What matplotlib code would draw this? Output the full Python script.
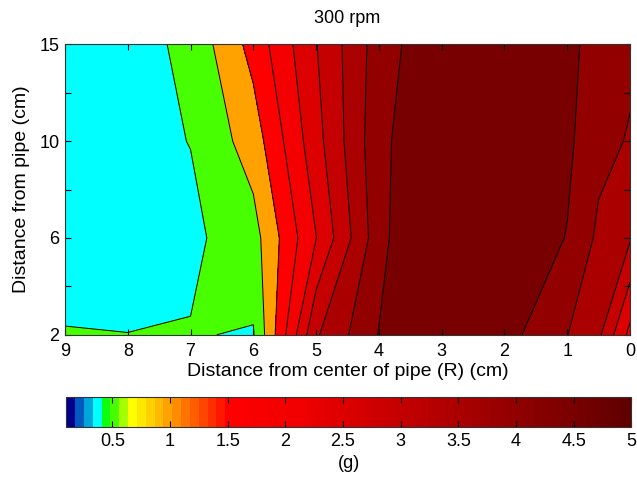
import numpy as np
import matplotlib
matplotlib.use('Agg')
from matplotlib import pyplot as plt
from matplotlib.colors import ListedColormap, Normalize
from matplotlib.cm import ScalarMappable

# distance from centre of pipe (cm), one column per value
dist_center = [0, 0.5, 1, 2, 3, 4, 5, 6, 7, 8, 9]
x_ticks = [0, 1, 2, 3, 4, 5, 6, 7, 8, 9]
# distance from pipe (cm), plotted as equally spaced rows
depth_labels = ['2', '6', '10', '15']

# acceleration (g) per row
z_2cm = [2.35, 3.60, 4.01, 4.69, 4.90, 4.52, 3.44, 0.465, 0.525, 0.503, 0.512]
z_6cm = [3.55, 3.90, 4.48, 4.90, 5.50, 4.30, 2.49, 0.80, 0.395, 0.38, 0.38]
z_10cm = [3.96, 4.15, 4.60, 5.00, 5.10, 4.35, 2.82, 1.24, 0.51, 0.36, 0.38]
z_15cm = [4.10, 4.35, 4.60, 4.90, 4.95, 4.24, 2.98, 1.68, 0.625, 0.29, 0.34]

levels = [0.5, 1.0, 1.5, 2.0, 2.5, 3.0, 3.5, 4.0, 4.5]
cbar_ticks = [0.5, 1, 1.5, 2, 2.5, 3, 3.5, 4, 4.5, 5]
cmin, cmax = 0.1, 5.0

# 64 entry map: squeezed jet up to red, then red fading to dark red
cols = [(0, 0, 0.55), (0, 0.35, 0.75), (0, 0.65, 0.85), (0, 1, 1),
        (0.05, 1, 0.05), (0.28, 1, 0), (0.65, 1, 0), (1, 1, 0)]
for i in range(8, 19):
    cols.append((1, 1 - (i - 7) / 11.0, 0))
for i in range(19, 27):
    cols.append((1 - (i - 18) / 8.0 * 0.06, 0, 0))
for i in range(27, 64):
    cols.append((0.94 - (i - 26) / 37.0 * 0.56, 0, 0))
cmap = ListedColormap(cols)
norm = Normalize(cmin, cmax)

plt.rcParams['font.family'] = 'Liberation Sans'
plt.rcParams['font.size'] = 13

Z = np.array([z_2cm, z_6cm, z_10cm, z_15cm])
X, Y = np.meshgrid(dist_center, np.arange(len(depth_labels)))

fill_levels = [Z.min()] + levels + [Z.max()]
fill_colors = [cmap(norm((Z.min() + levels[0]) / 2))]
fill_colors += [cmap(norm(v)) for v in levels]

fig = plt.figure(figsize=(6.37, 4.86), dpi=100)
ax = fig.add_axes([0.102, 0.311, 0.887, 0.598])
ax.contourf(X, Y, Z, levels=fill_levels, colors=fill_colors)
ax.contour(X, Y, Z, levels=levels, colors='k', linewidths=0.7)

ax.set_xlim(9, 0)
ax.set_ylim(0, 3)
ax.set_xticks(x_ticks)
ax.set_xticklabels([str(v) for v in x_ticks])
ax.set_yticks(np.arange(0, 3.01, 0.5))
ax.set_yticklabels([depth_labels[0], '', depth_labels[1], '', depth_labels[2], '', depth_labels[3]])
ax.tick_params(direction='in', top=True, right=True, length=4, width=0.8)
ax.tick_params(axis='x', pad=6)
ax.tick_params(axis='y', pad=4)
for s in ax.spines.values():
    s.set_color('#333333')
ax.set_xlabel('Distance from center of pipe (R) (cm)', fontsize=14, labelpad=2)
ax.set_ylabel('Distance from pipe (cm)', fontsize=14, labelpad=7)
ax.set_title('300 rpm', fontsize=13, pad=15)

cax = fig.add_axes([0.104, 0.1214, 0.887, 0.0617])
cb = fig.colorbar(ScalarMappable(norm=norm, cmap=cmap), cax=cax, orientation='horizontal')
cb.set_ticks(cbar_ticks)
cb.set_ticklabels(['0.5', '1', '1.5', '2', '2.5', '3', '3.5', '4', '4.5', '5'])
cax.tick_params(direction='in', top=True, bottom=True, length=4, width=0.8, pad=4)
cb.outline.set_edgecolor('#333333')
cb.set_label('(g)', fontsize=13, labelpad=4)

fig.savefig('out.png', dpi=100)
